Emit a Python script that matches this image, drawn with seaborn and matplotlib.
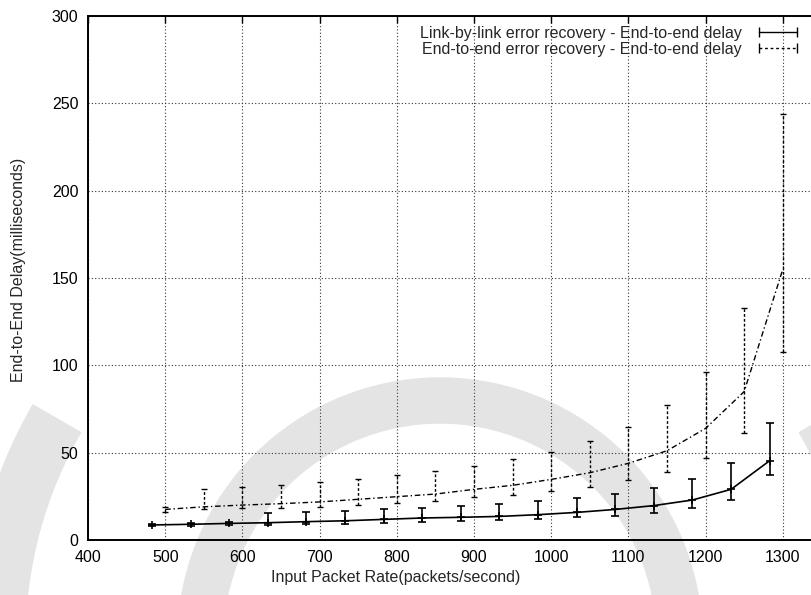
import numpy as np
import pandas as pd
import matplotlib
matplotlib.use("Agg")
import matplotlib.pyplot as plt
import seaborn as sns
from matplotlib.lines import Line2D
from matplotlib.patches import Wedge
from matplotlib.transforms import IdentityTransform

# ---- data ----
link_rate = [483, 533, 583, 633, 683, 733, 783, 833, 883, 933, 983, 1033, 1083, 1133, 1183, 1233, 1283]
link_delay = [8.6, 9.0, 9.5, 9.9, 10.5, 11.0, 11.8, 12.6, 13.0, 13.5, 14.5, 15.8, 17.5, 19.7, 22.9, 29.0, 45.4]
link_low = [7.8, 8.2, 8.7, 8.6, 9.0, 9.4, 9.7, 10.1, 11.0, 11.5, 11.8, 13.0, 13.9, 15.5, 18.1, 22.9, 37.2]
link_high = [9.4, 9.8, 10.3, 15.3, 15.8, 16.8, 17.6, 18.5, 19.3, 20.6, 22.1, 24.0, 26.5, 30.0, 34.9, 43.9, 66.8]

e2e_rate = [500, 550, 600, 650, 700, 750, 800, 850, 900, 950, 1000, 1050, 1100, 1150, 1200, 1250, 1300]
e2e_delay = [17.5, 19.0, 20.0, 20.8, 21.8, 23.3, 24.8, 26.3, 29.0, 31.3, 34.7, 38.5, 43.9, 51.1, 63.9, 85.0, 155.0]
e2e_low = [16.0, 17.6, 18.1, 18.5, 19.1, 20.0, 21.4, 22.5, 24.4, 25.8, 28.0, 30.5, 34.4, 39.1, 46.8, 61.1, 107.8]
e2e_high = [19.0, 29.0, 30.2, 31.7, 33.4, 35.1, 37.0, 39.7, 42.6, 46.2, 50.6, 56.7, 64.9, 77.3, 96.0, 133.0, 243.7]

x_ticks = [400, 500, 600, 700, 800, 900, 1000, 1100, 1200, 1300]
y_ticks = [0, 50, 100, 150, 200, 250, 300]

label_link = "Link-by-link error recovery - End-to-end delay"
label_e2e = "End-to-end error recovery - End-to-end delay"

df_link = pd.DataFrame({"rate": link_rate, "delay": link_delay})
df_e2e = pd.DataFrame({"rate": e2e_rate, "delay": e2e_delay})

sns.set_style("white")
plt.rcParams["font.family"] = ["Liberation Sans", "DejaVu Sans"]

FS = 11.5
fig = plt.figure(figsize=(8.12, 5.95), dpi=100)
fig.patch.set_facecolor("white")

# faint background watermark rings (display pixel coords, origin bottom-left)
wm = "#e4e4e4"
H = 595
fig.patches.append(Wedge((440, H - 640), 262, 0, 180, width=45, color=wm,
                         transform=IdentityTransform(), zorder=0))
fig.patches.append(Wedge((440, H - 640), 470, 150, 180, width=55, color=wm,
                         transform=IdentityTransform(), zorder=0))
fig.patches.append(Wedge((440, H - 640), 470, 0, 30, width=55, color=wm,
                         transform=IdentityTransform(), zorder=0))

ax = fig.add_axes([88 / 812, (H - 540) / H, 772 / 812, 524 / H])
ax.set_facecolor("none")
ax.set_zorder(2)

# lines
sns.lineplot(data=df_link, x="rate", y="delay", ax=ax, color="black", lw=1.2,
             linestyle="-", zorder=3, legend=False)
sns.lineplot(data=df_e2e, x="rate", y="delay", ax=ax, color="black", lw=1.0,
             zorder=3, legend=False)
ax.lines[-1].set_dashes([4, 2, 1, 2])

# error bars
lerr = [np.array(link_delay) - np.array(link_low), np.array(link_high) - np.array(link_delay)]
ax.errorbar(link_rate, link_delay, yerr=lerr, fmt="none", ecolor="black",
            elinewidth=1.2, capsize=2.7, capthick=1.2, zorder=3)
ax.plot(link_rate, link_delay, ls="none", marker="+", ms=6, mew=1.2, color="black", zorder=3)

eerr = [np.array(e2e_delay) - np.array(e2e_low), np.array(e2e_high) - np.array(e2e_delay)]
eb2 = ax.errorbar(e2e_rate, e2e_delay, yerr=eerr, fmt="none", ecolor="black",
                  elinewidth=1.0, capsize=2.2, capthick=1.0, zorder=3)
for lc in eb2[2]:
    lc.set_linestyle((0, (2, 1.5)))

ax.set_xlim(400, 1400)
ax.set_ylim(0, 300)
ax.set_xticks(x_ticks)
ax.set_yticks(y_ticks)
ax.set_xticklabels([str(t) for t in x_ticks])
ax.set_yticklabels([str(t) for t in y_ticks])

ax.grid(True, color="#333333", linestyle=(0, (1, 2)), linewidth=0.8)
ax.set_axisbelow(True)
for s in ax.spines.values():
    s.set_color("black")
    s.set_linewidth(1.4)

ax.tick_params(direction="in", length=5, width=1, top=True, right=True,
               labelsize=FS, pad=7, colors="black")

ax.set_xlabel("Input Packet Rate(packets/second)", fontsize=FS)
ax.set_ylabel("End-to-End Delay(milliseconds)", fontsize=FS)
ax.xaxis.set_label_coords((396 - 88) / 772, -(570 - 540) / 524)
ax.yaxis.set_label_coords((26 - 88) / 772, (540 - 270) / 524)

handles = [
    Line2D([0], [0], color="black", lw=1.0, marker="|", ms=7, mew=1.0),
    Line2D([0], [0], color="black", lw=1.0, linestyle=(0, (2, 2)), marker="|", ms=7, mew=1.0),
]
fig.legend(handles, [label_link, label_e2e], loc="upper right",
           bbox_to_anchor=(810 / 812, 1 - 18 / H), bbox_transform=fig.transFigure,
           frameon=False, markerfirst=False, numpoints=2, fontsize=FS,
           handlelength=3.0, handletextpad=0.75, labelspacing=0.05, borderpad=0)

fig.savefig("out.png", dpi=100)
